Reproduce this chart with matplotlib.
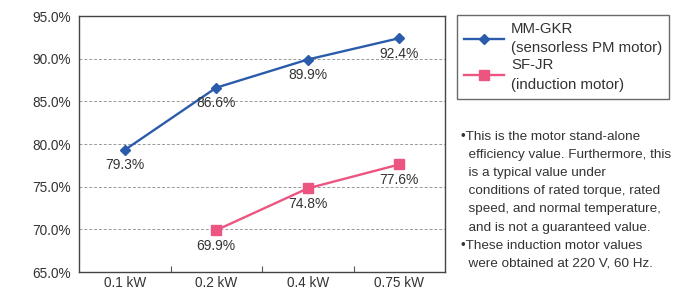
import matplotlib.pyplot as plt

plt.rcParams['font.family'] = ['Liberation Sans', 'DejaVu Sans']

# data
categories = ['0.1 kW', '0.2 kW', '0.4 kW', '0.75 kW']
gkr_values = [79.3, 86.6, 89.9, 92.4]
jr_cats = ['0.2 kW', '0.4 kW', '0.75 kW']
jr_values = [69.9, 74.8, 77.6]
y_ticks = [65, 70, 75, 80, 85, 90, 95]
note_text = ("\u2022This is the motor stand-alone\n"
             "  efficiency value. Furthermore, this\n"
             "  is a typical value under\n"
             "  conditions of rated torque, rated\n"
             "  speed, and normal temperature,\n"
             "  and is not a guaranteed value.\n"
             "\u2022These induction motor values\n"
             "  were obtained at 220 V, 60 Hz.")

blue = '#2b5bab'
pink = '#ec5580'
txt = '#333333'

fig = plt.figure(figsize=(6.87, 2.88), dpi=100)
ax = fig.add_axes([79 / 687, 16 / 288, (445 - 79) / 687, (272 - 16) / 288])

x_gkr = [categories.index(c) for c in categories]
x_jr = [categories.index(c) for c in jr_cats]

ax.plot(x_gkr, gkr_values, color=blue, lw=1.7, marker='D', ms=5,
        label='MM-GKR\n(sensorless PM motor)')
ax.plot(x_jr, jr_values, color=pink, lw=1.7, marker='s', ms=7.5,
        label='SF-JR\n(induction motor)')

# value labels under the points
for xs, vals in ((x_gkr, gkr_values), (x_jr, jr_values)):
    for x, v in zip(xs, vals):
        ax.annotate('%.1f%%' % v, (x, v), xytext=(0, -6), textcoords='offset points',
                    ha='center', va='top', fontsize=10, color=txt)

ax.set_xlim(-0.5, 3.5)
ax.set_ylim(65, 95)
ax.set_yticks(y_ticks)
ax.set_yticklabels(['%.1f%%' % t for t in y_ticks], fontsize=9.8, color=txt)
ax.tick_params(axis='y', length=0, pad=6)
ax.set_xticks([0.5, 1.5, 2.5], minor=False)
ax.set_xticklabels([])
ax.tick_params(axis='x', direction='in', length=4, color='#555555')
ax.set_xticks(range(len(categories)), minor=True)
ax.set_xticklabels(categories, minor=True, fontsize=9.8, color=txt)
ax.tick_params(axis='x', which='minor', length=0, pad=3)
for t in y_ticks[1:-1]:
    ax.axhline(t, color='#999999', lw=0.7, ls=(0, (3, 2)), zorder=0)
for s in ax.spines.values():
    s.set_color('#444444')
    s.set_linewidth(1.0)

leg = fig.legend(loc='upper left', bbox_to_anchor=(457 / 687, 1 - 15 / 288),
                 borderaxespad=0, fontsize=10.8, frameon=True, fancybox=False,
                 handlelength=2.7, borderpad=0.45, labelspacing=0.2, handletextpad=0.45)
leg.get_frame().set_edgecolor('#444444')
leg.get_frame().set_linewidth(1.0)
for t in leg.get_texts():
    t.set_color(txt)
    t.set_linespacing(1.5)

fig.text(461 / 687, 1 - 131 / 288, note_text, fontsize=9.7, color=txt,
         va='top', ha='left', linespacing=1.68)

plt.savefig('out.png', dpi=100)
